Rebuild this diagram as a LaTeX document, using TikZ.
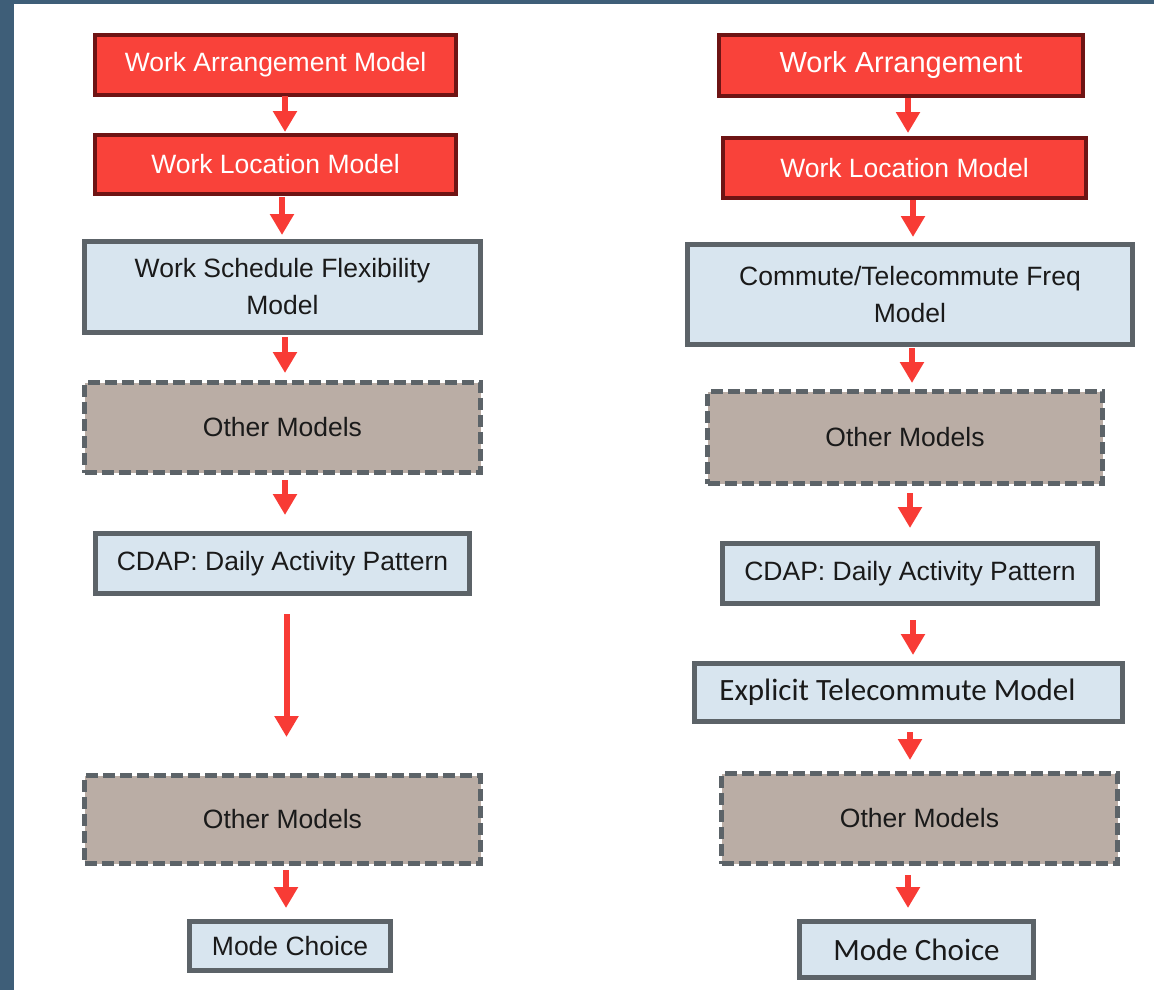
\documentclass[tikz,border=0pt]{standalone}
\usepackage{fontspec}
\setmainfont{Liberation Sans}
\newfontfamily\calibrifont{Carlito}
\usetikzlibrary{arrows.meta}
\definecolor{redfill}{HTML}{F9423A}
\definecolor{redline}{HTML}{6E1414}
\definecolor{bluefill}{HTML}{D8E5EF}
\definecolor{grayline}{HTML}{5C6368}
\definecolor{brownfill}{HTML}{BAADA5}
\definecolor{arrred}{HTML}{F83B35}
\definecolor{band}{HTML}{3E5E78}
\definecolor{txt}{HTML}{1A1A1A}
\tikzset{
  base/.style={rectangle, outer sep=0pt, inner sep=0pt, align=center,
    font=\fontsize{26.5}{37}\selectfont},
  redbox/.style={base, fill=redfill, draw=redline, line width=4pt, text=white},
  bluebox/.style={base, fill=bluefill, draw=grayline, line width=4.5pt, text=txt},
  otherbox/.style={base, fill=brownfill, draw=grayline, line width=4.5pt,
    dash pattern=on 12pt off 5pt, text=txt},
  arr/.style={draw=arrred, line width=6pt, -{Triangle[width=23pt,length=21pt]}},
}
\begin{document}
\begin{tikzpicture}[x=1pt,y=-1pt]
\fill[white] (0,0) rectangle (1154,990);
\useasboundingbox (0,0) rectangle (1154,990);
\fill[band] (0,0) rectangle (14,990);
\fill[band] (0,0) rectangle (1154,4);

% Left column
\node[redbox, minimum width=361pt, minimum height=60pt] (L1) at (275.5,65) {Work Arrangement Model};
\node[redbox, minimum width=361pt, minimum height=59pt] (L2) at (275.5,164.5) {Work Location Model};
\node[bluebox, minimum width=396pt, minimum height=91pt] (L3) at (282.5,287) {Work Schedule Flexibility\\Model};
\node[otherbox, minimum width=396pt, minimum height=90pt] (L4) at (282.5,427.5) {Other Models};
\node[bluebox, minimum width=374pt, minimum height=60pt] (L5) at (282.5,563.5) {CDAP: Daily Activity Pattern};
\node[otherbox, minimum width=396pt, minimum height=88pt] (L6) at (282.5,819.5) {Other Models};
\node[bluebox, minimum width=201pt, minimum height=49pt] (L7) at (290,946) {Mode Choice};

% Right column
\node[redbox, minimum width=364pt, minimum height=61pt, font=\fontsize{29}{36}\selectfont] (R1) at (901,65.5) {Work Arrangement};
\node[redbox, minimum width=363pt, minimum height=60pt] (R2) at (904.5,168) {Work Location Model};
\node[bluebox, minimum width=445pt, minimum height=100pt] (R3) at (910,294.5) {Commute/Telecommute Freq\\Model};
\node[otherbox, minimum width=395pt, minimum height=92pt] (R4) at (905,437.5) {Other Models};
\node[bluebox, minimum width=375pt, minimum height=60pt] (R5) at (910,573.5) {CDAP: Daily Activity Pattern};
\node[bluebox, minimum width=428pt, minimum height=58pt, font=\calibrifont\fontsize{31}{36}\selectfont] (R6) at (908.5,692.5) {Explicit Telecommute Model\hspace{22pt}};
\node[otherbox, minimum width=396pt, minimum height=90pt] (R7) at (919.5,818.5) {Other Models};
\node[bluebox, minimum width=234pt, minimum height=56pt, font=\calibrifont\fontsize{31}{36}\selectfont] (R8) at (916.5,949.5) {Mode Choice};

% Left arrows
\draw[arr, shorten <=1pt, shorten >=3pt] ([xshift=9.5pt]L1.south) -- ([xshift=9.5pt]L1.south |- L2.north);
\draw[arr, shorten <=3pt, shorten >=6.5pt] ([xshift=6.5pt]L2.south) -- ([xshift=6.5pt]L2.south |- L3.north);
\draw[arr, shorten <=4.5pt, shorten >=9.5pt] ([xshift=2.5pt]L3.south) -- ([xshift=2.5pt]L3.south |- L4.north);
\draw[arr, shorten <=7.5pt, shorten >=18.5pt] ([xshift=2.5pt]L4.south) -- ([xshift=2.5pt]L4.south |- L5.north);
\draw[arr, shorten <=20.5pt, shorten >=38.5pt] ([xshift=4pt]L5.south) -- ([xshift=4pt]L5.south |- L6.north);
\draw[arr, shorten <=6.5pt, shorten >=13.5pt] ([xshift=3.5pt]L6.south) -- ([xshift=3.5pt]L6.south |- L7.north);

% Right arrows
\draw[arr, shorten <=2pt, shorten >=5pt] ([xshift=7pt]R1.south) -- ([xshift=7pt]R1.south |- R2.north);
\draw[arr, shorten <=2pt, shorten >=7.5pt] ([xshift=8.5pt]R2.south) -- ([xshift=8.5pt]R2.south |- R3.north);
\draw[arr, shorten <=3.5pt, shorten >=8.5pt] ([xshift=2pt]R3.south) -- ([xshift=2pt]R3.south |- R4.north);
\draw[arr, shorten <=9.5pt, shorten >=15.5pt] ([xshift=5pt]R4.south) -- ([xshift=5pt]R4.south |- R5.north);
\draw[arr, shorten <=16.5pt, shorten >=8.5pt] ([xshift=3pt]R5.south) -- ([xshift=3pt]R5.south |- R6.north);
\draw[arr, shorten <=10.5pt, shorten >=13.5pt] ([xshift=1.5pt]R6.south) -- ([xshift=1.5pt]R6.south |- R7.north);
\draw[arr, shorten <=11.5pt, shorten >=13.5pt] ([xshift=-11.5pt]R7.south) -- ([xshift=-11.5pt]R7.south |- R8.north);
\end{tikzpicture}
\end{document}
